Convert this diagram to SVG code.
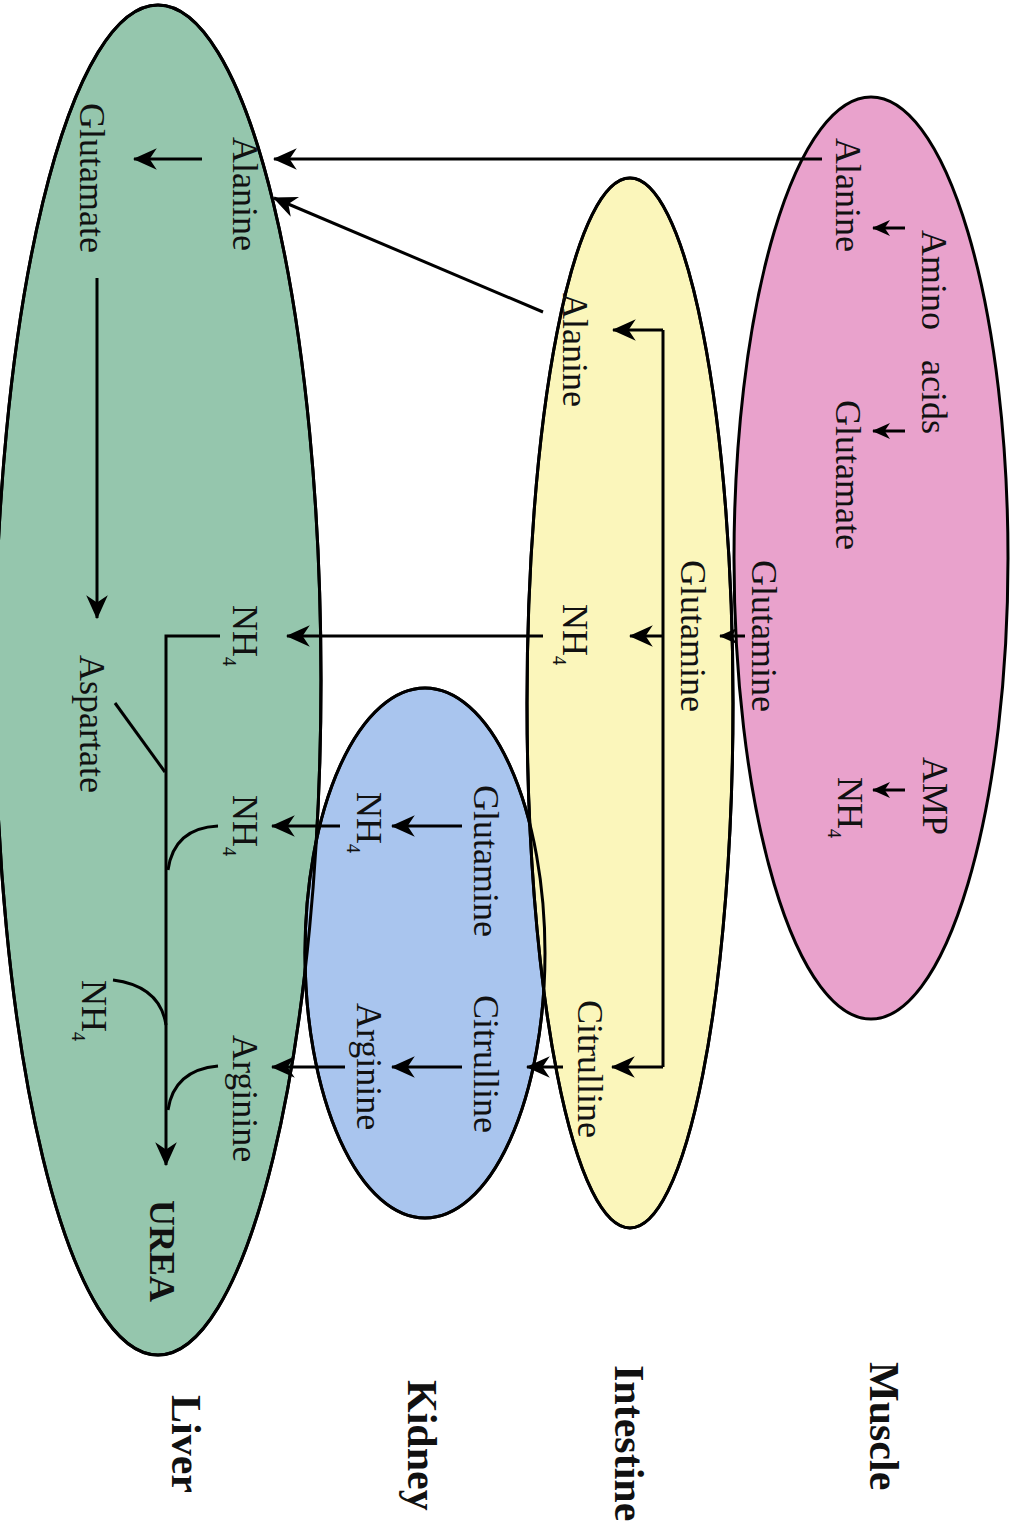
<svg xmlns="http://www.w3.org/2000/svg" xmlns:xlink="http://www.w3.org/1999/xlink" width="1016" height="1536" viewBox="0 0 1016 1536">
<style>
.bg{fill:#ffffff}
.org{stroke:#000;stroke-width:3}
.ol{fill:none;stroke:#000;stroke-width:3}
.t{font-family:"Liberation Serif","Times New Roman",serif;font-size:36px;fill:#111}
.b{font-family:"Liberation Serif","Times New Roman",serif;font-weight:bold;fill:#111}
.sub{font-size:18px}
.c{fill:none;stroke:#000;stroke-width:3}
</style>
<defs>
<ellipse id="e-liver" cx="158" cy="680" rx="163" ry="675"/>
<ellipse id="e-kidney" cx="425" cy="953" rx="120" ry="265"/>
<ellipse id="e-intestine" cx="630" cy="703" rx="103" ry="525"/>
<ellipse id="e-muscle" cx="871" cy="558" rx="137" ry="461"/>
<marker id="ah" viewBox="0 0 20 20" refX="19" refY="10" markerWidth="24" markerHeight="24" markerUnits="userSpaceOnUse" orient="auto"><path d="M0,1 L20,10 L0,19 L6,10 Z" fill="#000"/></marker>
<marker id="ahs" viewBox="0 0 20 20" refX="19" refY="10" markerWidth="18" markerHeight="18" markerUnits="userSpaceOnUse" orient="auto"><path d="M0,1 L20,10 L0,19 L6,10 Z" fill="#000"/></marker>
</defs>
<rect class="bg" x="0" y="0" width="1016" height="1536"/>

<g id="liver">
<use xlink:href="#e-liver" class="org" fill="#95c6ad"/>
<text class="b" font-size="42" transform="translate(172,0) rotate(90)" x="1395">Liver</text>
</g>
<g id="kidney">
<use xlink:href="#e-kidney" class="org" fill="#a9c5ee"/>
<text class="b" font-size="42" transform="translate(408,0) rotate(90)" x="1380">Kidney</text>
</g>
<g id="intestine">
<use xlink:href="#e-intestine" class="org" fill="#fbf6bb"/>
<text class="b" font-size="42" transform="translate(615,0) rotate(90)" x="1365">Intestine</text>
</g>
<g id="muscle">
<use xlink:href="#e-muscle" class="org" fill="#e9a2cc"/>
<text class="b" font-size="42" transform="translate(870,0) rotate(90)" x="1362">Muscle</text>
</g>
<g id="overlap-outlines">
<use xlink:href="#e-liver" class="ol"/>
<use xlink:href="#e-kidney" class="ol"/>
<use xlink:href="#e-intestine" class="ol"/>
</g>

<g id="connectors">
<path class="c" d="M822,159 L274,159" marker-end="url(#ah)"/>
<path class="c" d="M543,312 L274,198" marker-end="url(#ah)"/>
<path class="c" d="M905,228 L873,228" marker-end="url(#ahs)"/>
<path class="c" d="M905,431 L873,431" marker-end="url(#ahs)"/>
<path class="c" d="M905,790 L873,790" marker-end="url(#ahs)"/>
<path class="c" d="M745,636 L720,636" marker-end="url(#ahs)"/>
<path class="c" d="M663,330 L663,1067"/>
<path class="c" d="M663,330 L613,330" marker-end="url(#ah)"/>
<path class="c" d="M663,636 L630,636" marker-end="url(#ah)"/>
<path class="c" d="M663,1067 L612,1067" marker-end="url(#ah)"/>
<path class="c" d="M563,1067 L527,1067" marker-end="url(#ah)"/>
<path class="c" d="M543,636 L287,636" marker-end="url(#ah)"/>
<path class="c" d="M462,826 L392,826" marker-end="url(#ah)"/>
<path class="c" d="M462,1067 L392,1067" marker-end="url(#ah)"/>
<path class="c" d="M340,826 L272,826" marker-end="url(#ah)"/>
<path class="c" d="M345,1067 L272,1067" marker-end="url(#ah)"/>
<path class="c" d="M202,159 L134,159" marker-end="url(#ah)"/>
<path class="c" d="M97,278 L97,618" marker-end="url(#ah)"/>
<path class="c" d="M220,636 L166,636 L166,1165" marker-end="url(#ah)"/>
<path class="c" d="M115,703 L165,772"/>
<path class="c" d="M218,826 Q174,828 168,870"/>
<path class="c" d="M113,980 Q160,986 166,1025"/>
<path class="c" d="M218,1066 Q174,1070 168,1110"/>
</g>

<g id="m-amino-acids"><text class="t" transform="translate(922,0) rotate(90)"><tspan x="230">Amino</tspan><tspan x="360">acids</tspan></text></g>
<g id="m-alanine"><text class="t" transform="translate(836,0) rotate(90)" x="138">Alanine</text></g>
<g id="m-glutamate"><text class="t" transform="translate(836,0) rotate(90)" x="400">Glutamate</text></g>
<g id="m-glutamine"><text class="t" transform="translate(752,0) rotate(90)" x="560">Glutamine</text></g>
<g id="m-amp"><text class="t" transform="translate(923,0) rotate(90)" x="757">AMP</text></g>
<g id="m-nh4"><text class="t" transform="translate(838,0) rotate(90)" x="777">NH<tspan class="sub" dy="10">4</tspan></text></g>

<g id="i-alanine"><text class="t" transform="translate(563,0) rotate(90)" x="293">Alanine</text></g>
<g id="i-glutamine"><text class="t" transform="translate(681,0) rotate(90)" x="560">Glutamine</text></g>
<g id="i-nh4"><text class="t" transform="translate(563,0) rotate(90)" x="604">NH<tspan class="sub" dy="10">4</tspan></text></g>
<g id="i-citrulline"><text class="t" transform="translate(578,0) rotate(90)" x="1000">Citrulline</text></g>

<g id="k-glutamine"><text class="t" transform="translate(474,0) rotate(90)" x="785">Glutamine</text></g>
<g id="k-nh4"><text class="t" transform="translate(357,0) rotate(90)" x="792">NH<tspan class="sub" dy="10">4</tspan></text></g>
<g id="k-citrulline"><text class="t" transform="translate(474,0) rotate(90)" x="995">Citrulline</text></g>
<g id="k-arginine"><text class="t" transform="translate(357,0) rotate(90)" x="1003">Arginine</text></g>

<g id="l-alanine"><text class="t" transform="translate(233,0) rotate(90)" x="137">Alanine</text></g>
<g id="l-glutamate"><text class="t" transform="translate(80,0) rotate(90)" x="103">Glutamate</text></g>
<g id="l-nh4-a"><text class="t" transform="translate(233,0) rotate(90)" x="605">NH<tspan class="sub" dy="10">4</tspan></text></g>
<g id="l-aspartate"><text class="t" transform="translate(80,0) rotate(90)" x="655">Aspartate</text></g>
<g id="l-nh4-b"><text class="t" transform="translate(233,0) rotate(90)" x="795">NH<tspan class="sub" dy="10">4</tspan></text></g>
<g id="l-nh4-c"><text class="t" transform="translate(82,0) rotate(90)" x="980">NH<tspan class="sub" dy="10">4</tspan></text></g>
<g id="l-arginine"><text class="t" transform="translate(233,0) rotate(90)" x="1035">Arginine</text></g>
<g id="l-urea"><text class="b" font-size="36" transform="translate(150,0) rotate(90)" x="1200">UREA</text></g>
</svg>
